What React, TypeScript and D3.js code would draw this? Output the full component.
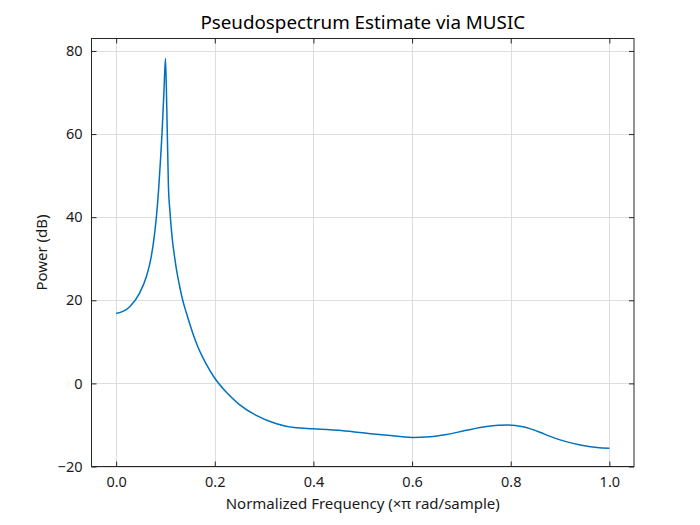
import React, { useRef, useEffect } from 'react';
import * as d3 from 'd3';

// normalized frequency (x pi rad/sample) and pseudospectrum power (dB)
const freq = [
  0, 0.027, 0.047, 0.061, 0.071, 0.078, 0.082, 0.086, 0.09, 0.093, 0.097, 0.1,
  0.1026, 0.106, 0.109, 0.112, 0.115, 0.118, 0.123, 0.128, 0.135, 0.142, 0.149,
  0.157, 0.166, 0.175, 0.183, 0.198, 0.223, 0.25, 0.284, 0.325, 0.365, 0.4, 0.45,
  0.5, 0.55, 0.6, 0.636, 0.67, 0.71, 0.751, 0.775, 0.795, 0.825, 0.84, 0.859, 0.88,
  0.9, 0.941, 0.975, 1.0,
];
const power = [
  16.8, 18.4, 21.6, 25.6, 30.4, 36.1, 40.6, 46.5, 54, 60.2, 70.6, 78.2,
  66.6, 47.3, 41.5, 37.0, 33.5, 30.8, 26.9, 23.8, 20.0, 17.1, 14.4,
  11.5, 8.7, 6.4, 4.6, 1.6, -2.1, -5.1, -7.7, -9.7, -10.7, -10.9, -11.3,
  -11.9, -12.5, -13.0, -12.85, -12.3, -11.3, -10.4, -10.1, -10.0, -10.45, -10.95, -11.75, -12.75,
  -13.6, -14.8, -15.4, -15.6,
];
const xTicks = [0, 0.2, 0.4, 0.6, 0.8, 1.0];
const yTicks = [-20, 0, 20, 40, 60, 80];

const title = 'Pseudospectrum Estimate via MUSIC';
const xLabel = 'Normalized Frequency (\u00d7\u03c0 rad/sample)';
const yLabel = 'Power (dB)';

const W = 700;
const H = 525;
const margin = { top: 38.5, right: 66, bottom: 58.5, left: 91.5 };
const font = '"Noto Sans", "Open Sans", sans-serif';

const App = () => {
  const ref = useRef<SVGSVGElement | null>(null);

  useEffect(() => {
    if (!ref.current) {
      return;
    }
    const svg = d3.select(ref.current);
    svg.selectAll('*').remove();

    const x = d3
      .scaleLinear()
      .domain([-0.05, 1.05])
      .range([margin.left, W - margin.right]);
    const y = d3
      .scaleLinear()
      .domain([-20, 83])
      .range([H - margin.bottom, margin.top]);

    const [x0, x1] = x.range();
    const [y0, y1] = y.range();

    // grid
    const grid = svg.append('g').attr('stroke', '#dedede').attr('stroke-width', 1);
    grid
      .selectAll('.gx')
      .data(xTicks)
      .join('line')
      .attr('x1', (d) => Math.round(x(d)) + 0.5)
      .attr('x2', (d) => Math.round(x(d)) + 0.5)
      .attr('y1', y1)
      .attr('y2', y0);
    grid
      .selectAll('.gy')
      .data(yTicks)
      .join('line')
      .attr('y1', (d) => Math.round(y(d)) + 0.5)
      .attr('y2', (d) => Math.round(y(d)) + 0.5)
      .attr('x1', x0)
      .attr('x2', x1);

    // curve
    const pts = freq.map((f, i) => [f, power[i]] as [number, number]);
    const line = d3
      .line<[number, number]>()
      .curve(d3.curveMonotoneX)
      .x((d) => x(d[0]))
      .y((d) => y(d[1]));
    svg
      .append('path')
      .datum(pts)
      .attr('fill', 'none')
      .attr('stroke', '#0072BD')
      .attr('stroke-width', 1.5)
      .attr('stroke-linejoin', 'round')
      .attr('d', line);

    // axes (ticks point inward, mirrored on top and right)
    const tick = 5;
    const styleAxis = (g: d3.Selection<SVGGElement, unknown, null, undefined>) => {
      g.select('.domain').remove();
      g.selectAll('.tick line').attr('stroke', '#262626');
      g.selectAll('.tick text')
        .attr('fill', '#1a1a1a')
        .style('font-family', font)
        .style('font-size', '14.5px');
    };

    svg
      .append('g')
      .attr('transform', `translate(0,${y0})`)
      .call(
        d3
          .axisBottom(x)
          .tickValues(xTicks)
          .tickSize(-tick)
          .tickPadding(10)
          .tickFormat(d3.format('.1f')),
      )
      .call(styleAxis);
    svg
      .append('g')
      .attr('transform', `translate(0,${y1})`)
      .call(d3.axisTop(x).tickValues(xTicks).tickSize(-tick).tickFormat(() => ''))
      .call(styleAxis);
    svg
      .append('g')
      .attr('transform', `translate(${x0},0)`)
      .call(
        d3
          .axisLeft(y)
          .tickValues(yTicks)
          .tickSize(-tick)
          .tickPadding(9)
          .tickFormat(d3.format('d')),
      )
      .call(styleAxis);
    svg
      .append('g')
      .attr('transform', `translate(${x1},0)`)
      .call(d3.axisRight(y).tickValues(yTicks).tickSize(-tick).tickFormat(() => ''))
      .call(styleAxis);

    // frame
    svg
      .append('rect')
      .attr('x', x0)
      .attr('y', y1)
      .attr('width', x1 - x0)
      .attr('height', y0 - y1)
      .attr('fill', 'none')
      .attr('stroke', '#262626')
      .attr('stroke-width', 1);

    svg
      .append('text')
      .attr('x', (x0 + x1) / 2)
      .attr('y', 28.5)
      .attr('text-anchor', 'middle')
      .style('font-family', font)
      .style('font-size', '18.8px')
      .attr('fill', '#000')
      .text(title);

    svg
      .append('text')
      .attr('x', (x0 + x1) / 2)
      .attr('y', 509)
      .attr('text-anchor', 'middle')
      .style('font-family', font)
      .style('font-size', '15px')
      .attr('fill', '#1a1a1a')
      .text(xLabel);

    svg
      .append('text')
      .attr('transform', `translate(47,${(y0 + y1) / 2}) rotate(-90)`)
      .attr('text-anchor', 'middle')
      .style('font-family', font)
      .style('font-size', '15px')
      .attr('fill', '#1a1a1a')
      .text(yLabel);
  }, []);

  return (
    <svg
      ref={ref}
      width={W}
      height={H}
      style={{ position: 'absolute', left: 0, top: 0, background: '#fff' }}
    />
  );
};

export default App;
